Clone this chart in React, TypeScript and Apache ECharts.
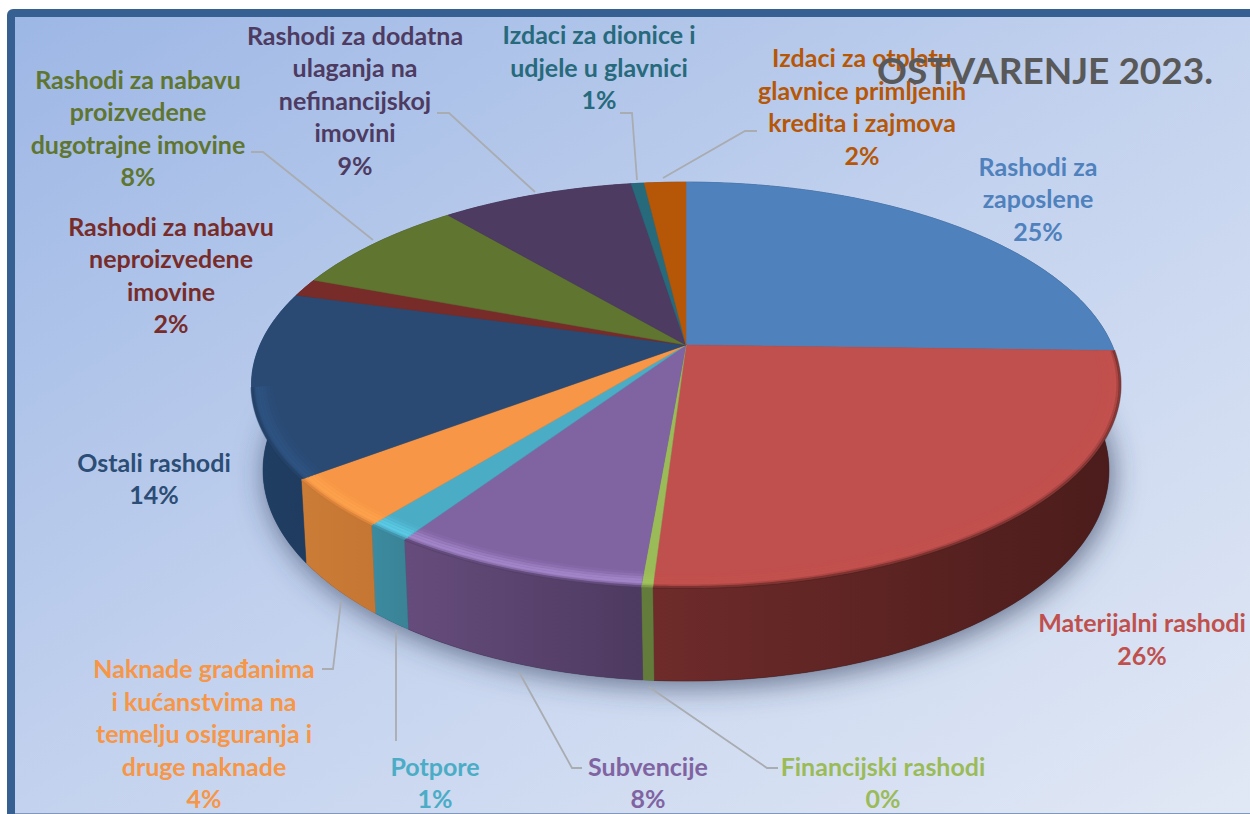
import React, { useEffect, useRef } from "react";
import * as echarts from "echarts";

const categories = [
  "Rashodi za\nzaposlene",
  "Materijalni rashodi",
  "Financijski rashodi",
  "Subvencije",
  "Potpore",
  "Naknade građanima\ni kućanstvima na\ntemelju osiguranja i\ndruge naknade",
  "Ostali rashodi",
  "Rashodi za nabavu\nneproizvedene\nimovine",
  "Rashodi za nabavu\nproizvedene\ndugotrajne imovine",
  "Rashodi za dodatna\nulaganja na\nnefinancijskoj\nimovini",
  "Izdaci za dionice i\nudjele u glavnici",
  "Izdaci za otplatu\nglavnice primljenih\nkredita i zajmova",
];
const values = [25.45, 25.55, 0.35, 7.97, 1.42, 3.9, 14.7, 1.45, 8.1, 8.65, 0.59, 1.87];
const percentLabels = ["25%", "26%", "0%", "8%", "1%", "4%", "14%", "2%", "8%", "9%", "1%", "2%"];
const title = "OSTVARENJE 2023.";

const topColors = ["#4f81bd", "#c0504d", "#9bbb59", "#8064a2", "#4bacc6", "#f79646", "#2a4a73", "#772c2a", "#5f7530", "#4d3b62", "#276a7c", "#b65708"];
const wallLeft = ["#2f4d71", "#6e2b2a", "#647c3b", "#664c7c", "#3b8ba0", "#cb7c37", "#203e62", "#4f1d1c", "#3f4e20", "#332741", "#1a4753", "#793a05"];
const wallRight = ["#2f4d71", "#4a1c1b", "#647c3b", "#4d3a60", "#3b8296", "#c57632", "#1f3c60", "#4f1d1c", "#3f4e20", "#332741", "#1a4753", "#793a05"];
const rimColors = ["", "#c2514e", "#a3c45f", "#ab8ed3", "#60d2ec", "#ffa64e", "#2f5788", "", "", "", "", ""];
const labelColors = ["#4f81bd", "#c0504d", "#9bbb59", "#8064a2", "#4bacc6", "#f79646", "#2c4d75", "#772c2a", "#5f7530", "#4d3b62", "#276a7c", "#b65708"];

// layout of the labels: [centre x, centre y]
const labelCentres = [
  [1038, 198], [1142, 638.5], [883, 782], [648, 782], [435, 782], [204, 733],
  [154, 478], [171, 274.5], [138, 127.5], [355, 99.5], [599, 66.5], [862, 106],
];
const leaderLines = [
  [[251, 152], [263, 152], [373, 240]],
  [[437, 113], [449, 113], [535, 192]],
  [[620, 113], [632, 113], [637, 180]],
  [[757, 131], [745, 131], [663, 178]],
  [[322, 669], [333, 669], [341, 601]],
  [[396, 630], [396, 741]],
  [[519, 672], [572, 768], [582, 768]],
  [[649, 687], [767, 768], [778, 768]],
];

const CX = 686;
type Disc = { a: number; cy: number; b: number; c: number };
const TOP: Disc = { a: 0.197, cy: 345, b: 195, c: 426 };
const BOTTOM: Disc = { a: 0.181, cy: 432, b: 204, c: 416 };
const RIM_RADII = [0.956, 0.964, 0.972, 0.98, 0.988];
const RIM_OPACITY = [0.1, 0.22, 0.4, 0.55, 0.55];
const RIM_END = (258 / 180) * Math.PI;

function project(theta: number, r: number, d: Disc) {
  const X = Math.sin(theta) * r;
  const Y = Math.cos(theta) * r;
  const w = 1 + d.a * Y;
  return [CX + (d.c * X) / w, d.cy - (d.b * Y) / w];
}
function arc(a0: number, a1: number, r: number, d: Disc, warp = false) {
  const n = Math.max(2, Math.ceil(Math.abs(a1 - a0) / 0.012));
  const pts: number[][] = [];
  for (let i = 0; i <= n; i++) {
    let t = a0 + ((a1 - a0) * i) / n;
    if (warp) {
      const s = Math.sin(t);
      t -= Math.sign(s) * s * s * ((3.5 / 180) * Math.PI);
    }
    pts.push(project(t, r, d));
  }
  return pts;
}

const total = values.reduce((s, v) => s + v, 0);
let running = 0;
const sliceData = values.map((v) => {
  const start = running;
  running += v;
  return [(start / total) * Math.PI * 2, (running / total) * Math.PI * 2];
});

export default function App() {
  const ref = useRef<HTMLDivElement>(null);
  useEffect(() => {
    const chart = echarts.init(ref.current!, undefined, { renderer: "svg" });
    const graphicElements: any[] = [
      { type: "rect", z: -10, shape: { x: 7, y: 9, width: 1243, height: 805, r: [6, 0, 0, 0] }, style: { fill: "#366092" }, silent: true },
      {
        type: "rect", z: -9, shape: { x: 15, y: 17, width: 1235, height: 796 },
        style: {
          fill: new echarts.graphic.LinearGradient(0, 0, 1, 1, [
            { offset: 0, color: "#9db7e5" },
            { offset: 0.5, color: "#c3d2ee" },
            { offset: 1, color: "#e1e8f5" },
          ]),
        },
        silent: true,
      },
      { type: "rect", z: -8, shape: { x: 15, y: 813, width: 1235, height: 1 }, style: { fill: "#7f98bb" }, silent: true },
      ...leaderLines.map((points) => ({
        type: "polyline", z: 5, shape: { points }, style: { stroke: "#a9acb0", lineWidth: 1.8, fill: "none" }, silent: true,
      })),
      ...categories.map((c, i) => ({
        type: "text", z: 6, x: labelCentres[i][0], y: labelCentres[i][1],
        style: {
          text: c + "\n" + percentLabels[i],
          fill: labelColors[i], font: "bold 25px Lato", lineHeight: 32.5,
          align: "center", verticalAlign: "middle",
        },
        silent: true,
      })),
      {
        type: "text", z: 7, x: 877, y: 69,
        style: { text: title, fill: "#595959", font: "bold 37px Lato", align: "left", verticalAlign: "middle" },
        silent: true,
      },
    ];
    chart.setOption({
      animation: false,
      graphic: { elements: graphicElements },
      series: [
        {
          type: "custom", coordinateSystem: "none", silent: true, z: 1,
          data: [[0, Math.PI * 2]],
          renderItem: () => ({
            type: "polygon",
            shape: { points: arc(0, Math.PI * 2, 1, BOTTOM) },
            style: { fill: "#34405a", shadowBlur: 30, shadowColor: "rgba(45,60,90,0.7)", shadowOffsetY: 5, shadowOffsetX: 3 },
          }),
        },
        {
          type: "custom", coordinateSystem: "none", silent: true, z: 2,
          data: sliceData,
          renderItem: (params: any, api: any) => {
            const i = params.dataIndex;
            const a0 = api.value(0);
            const a1 = api.value(1);
            const points = [...arc(a0, a1, 1, TOP), ...arc(a0, a1, 1, BOTTOM, true).reverse()];
            return {
              type: "polygon",
              shape: { points },
              style: {
                fill: new echarts.graphic.LinearGradient(0, 0, 1, 0, [
                  { offset: 0, color: wallLeft[i] },
                  { offset: 1, color: wallRight[i] },
                ]),
                stroke: wallRight[i], lineWidth: 0.5,
              },
            };
          },
        },
        {
          type: "custom", coordinateSystem: "none", silent: true, z: 3,
          data: sliceData,
          renderItem: (params: any, api: any) => {
            const i = params.dataIndex;
            const a0 = api.value(0);
            const a1 = api.value(1);
            const children: any[] = [
              {
                type: "polygon",
                shape: { points: [[CX, TOP.cy], ...arc(a0, a1, 1, TOP)] },
                style: { fill: topColors[i], stroke: topColors[i], lineWidth: 0.5 },
              },
            ];
            if (rimColors[i]) {
              const end = Math.min(a1, RIM_END);
              RIM_RADII.forEach((r, k) => {
                children.push({
                  type: "polyline",
                  shape: { points: arc(a0, end, r, TOP) },
                  style: { stroke: rimColors[i], lineWidth: 4.5, fill: "none", opacity: RIM_OPACITY[k] },
                });
              });
              children.push({
                type: "polyline",
                shape: { points: arc(a0, end, 0.994, TOP) },
                style: { stroke: wallRight[i], lineWidth: 3, fill: "none", opacity: 0.18 },
              });
              children.push({
                type: "polyline",
                shape: { points: arc(a0, end, 0.999, TOP) },
                style: { stroke: wallRight[i], lineWidth: 3, fill: "none", opacity: 0.45 },
              });
            }
            return { type: "group", children };
          },
        },
      ],
    });
    return () => chart.dispose();
  }, []);
  return <div ref={ref} style={{ position: "absolute", left: 0, top: 0, width: 1250, height: 814 }} />;
}
